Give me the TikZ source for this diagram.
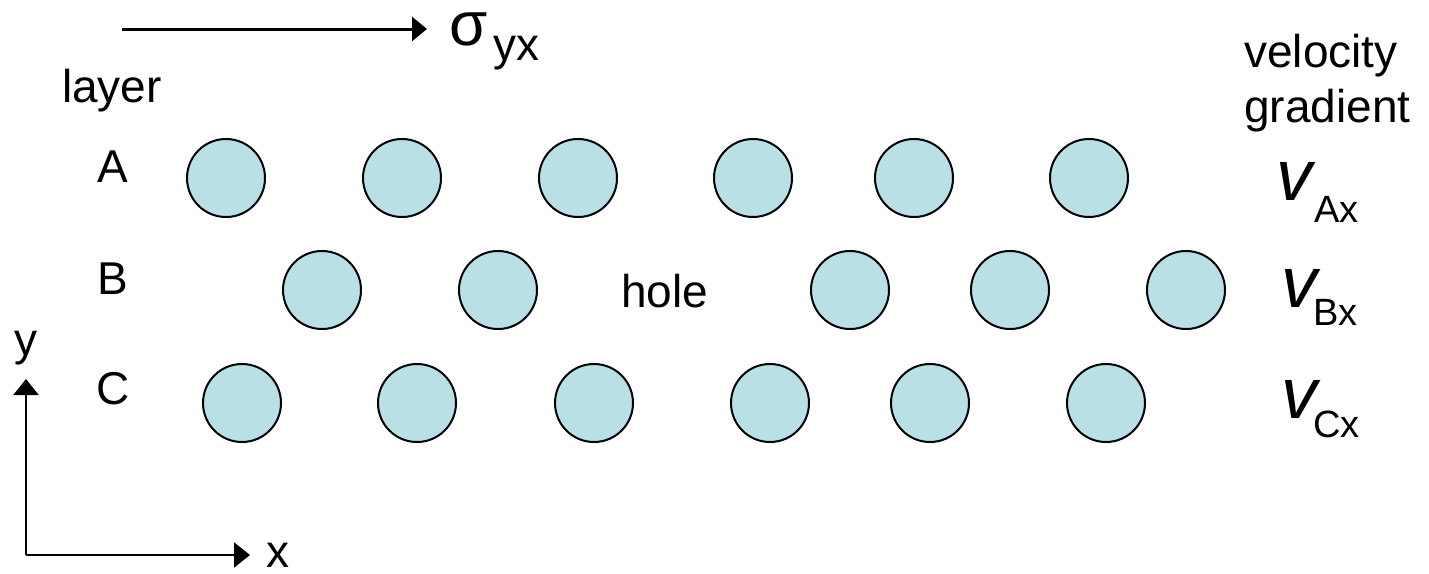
\documentclass[tikz,border=0pt]{standalone}
\usepackage{fontspec}
\setmainfont{Liberation Sans}
\usetikzlibrary{arrows.meta}
\definecolor{ballfill}{RGB}{185,224,228}
\begin{document}
\begin{tikzpicture}[x=1pt,y=-1pt,
  ball/.style={circle,draw=black,line width=2pt,fill=ballfill,minimum size=78pt,inner sep=0pt},
  lbl/.style={font=\fontsize{46}{55}\selectfont,inner sep=0pt},
  sig/.style={font=\fontsize{62}{70}\selectfont,inner sep=0pt},
  sigsub/.style={font=\fontsize{46}{50}\selectfont,inner sep=0pt},
  vlab/.style={font=\fontsize{72}{80}\selectfont\itshape,inner sep=0pt},
  vsub/.style={font=\fontsize{38}{44}\selectfont,inner sep=0pt},
  bigarrow/.style={line width=3pt,-{Triangle[length=15pt,width=24pt]}},
  axarrow/.style={line width=2.5pt,-{Triangle[length=16pt,width=25pt]}}
]
\useasboundingbox (0,0) rectangle (1429,573);

% shear stress arrow
\coordinate (s0) at (122,29);
\coordinate (s1) at (427,29);
\draw[bigarrow] (s0) -- (s1);
\node[sig,anchor=base west] (sigma) at (449,45) {σ};
\node[sigsub,anchor=base west] (sigmasub) at (493,60) {yx};

% labels
\node[lbl,anchor=base west] (layer) at (62,102) {layer};
\node[lbl,anchor=base] (labA) at (113,182) {A};
\node[lbl,anchor=base] (labB) at (113,294) {B};
\node[lbl,anchor=base] (labC) at (113,404) {C};
\node[lbl,anchor=base west] (hole) at (621,307) {hole};
\node[lbl,anchor=base west] (vel) at (1244,67) {velocity};
\node[lbl,anchor=base west] (grad) at (1244,122) {gradient};

% velocity labels
\node[vlab,anchor=base west] (vA) at (1276,200) {v};
\node[vsub,anchor=base west] (vAs) at (1314,222) {Ax};
\node[vlab,anchor=base west] (vB) at (1281,307) {v};
\node[vsub,anchor=base west] (vBs) at (1313,325) {Bx};
\node[vlab,anchor=base west] (vC) at (1281,418) {v};
\node[vsub,anchor=base west] (vCs) at (1313,437) {Cx};

% row A
\foreach \i/\xx in {1/226,2/402,3/578,4/753,5/914,6/1089}
  \node[ball] (a\i) at (\xx,178) {};
% row B
\foreach \i/\xx in {1/322,2/498,3/850,4/1010,5/1186}
  \node[ball] (b\i) at (\xx,290) {};
% row C
\foreach \i/\xx in {1/242,2/417,3/594,4/770,5/930,6/1106}
  \node[ball] (c\i) at (\xx,403) {};

% axes
\coordinate (o) at (26,555);
\coordinate (ytip) at (26,379);
\coordinate (xtip) at (250,555);
\draw[axarrow] (o) -- (ytip);
\draw[axarrow] (o) -- (xtip);
\node[lbl,anchor=base] (ylab) at (26,355) {y};
\node[lbl,anchor=base west] (xlab) at (266,567) {x};
\end{tikzpicture}
\end{document}
